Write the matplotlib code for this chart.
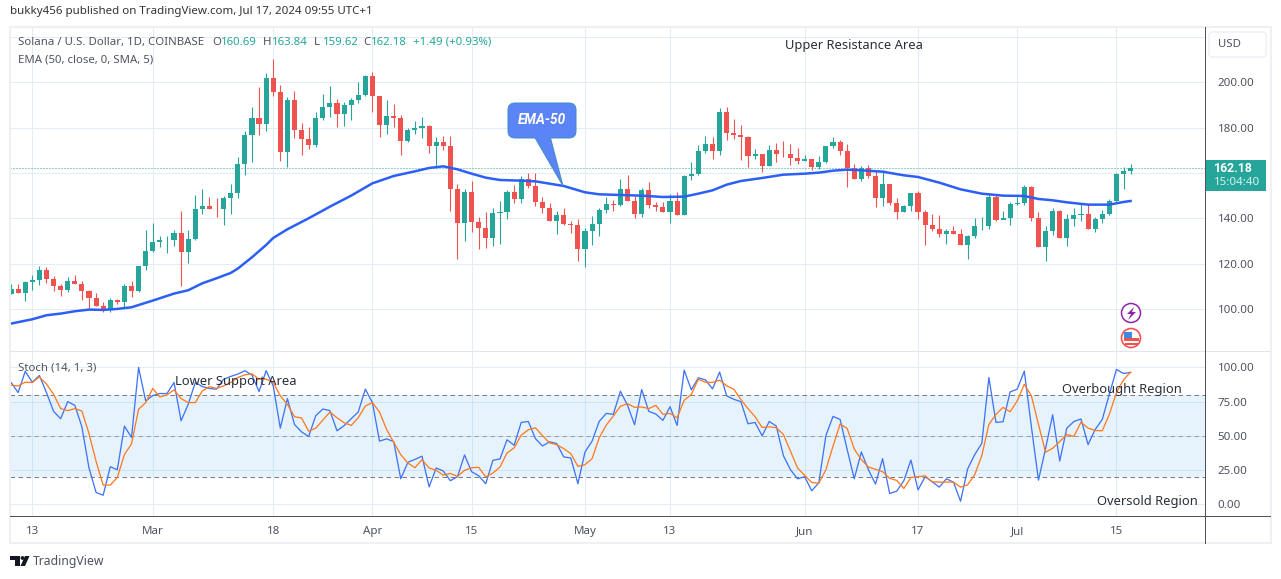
import numpy as np
import matplotlib
matplotlib.use('Agg')
import matplotlib.pyplot as plt
from matplotlib.patches import Circle, FancyBboxPatch, Polygon, Rectangle

plt.rcParams['font.family'] = ['Noto Sans', 'DejaVu Sans']

W, H = 1281, 579

# days counted from 13 Feb 2024
days = np.arange(-3, 156)
first_open = 106.75

closes = [108.81, 107.19, 112.04, 112.92, 117.33, 113.36, 110.28, 108.51, 112.48, 111.16,
          108.07, 104.99, 101.47, 99.70, 104.11, 103.38, 110.28, 108.07, 119.09, 125.70,
          129.66, 130.54, 130.60, 133.62, 125.25, 130.98, 144.20, 145.52, 144.20, 144.05,
          149.04, 151.25, 164.02, 176.80, 184.28, 181.64, 201.91, 195.74, 169.31, 192.21,
          179.00, 175.03, 172.39, 184.28, 189.13, 190.89, 186.05, 190.01, 192.21, 194.42,
          202.79, 193.98, 181.20, 185.17, 184.14, 174.15, 179.00, 179.88, 180.76, 171.95,
          173.71, 171.95, 153.01, 138.03, 151.69, 138.47, 135.83, 131.42, 142.44, 142.88,
          151.69, 148.60, 157.41, 154.33, 147.28, 144.64, 138.91, 141.55, 137.59, 137.30,
          126.58, 134.51, 137.59, 143.76, 146.40, 145.96, 153.01, 147.72, 141.99, 152.57,
          145.96, 145.08, 142.88, 147.72, 141.55, 158.73, 159.62, 169.75, 172.83, 169.75,
          186.93, 177.68, 176.80, 175.91, 167.55, 168.43, 163.14, 170.19, 168.43, 168.28,
          166.66, 165.34, 166.22, 162.70, 164.90, 171.95, 173.71, 169.75, 162.26, 157.41,
          162.26, 158.73, 149.04, 155.21, 146.84, 142.88, 145.52, 151.25, 142.88, 137.15,
          135.39, 133.18, 134.51, 133.18, 128.34, 132.30, 136.71, 136.86, 149.48, 139.35,
          140.09, 146.40, 146.84, 153.89, 140.23, 127.46, 134.51, 143.32, 131.42, 139.79,
          141.55, 141.99, 135.39, 139.79, 141.99, 147.72, 159.62, 160.94, 162.18]

highs = [111.16, 111.16, 112.48, 115.12, 119.09, 118.65, 114.68, 111.16, 114.24, 115.12,
         112.48, 108.51, 107.05, 103.23, 104.99, 104.70, 111.16, 112.48, 119.09, 134.95,
         138.03, 132.30, 132.30, 134.95, 143.32, 134.95, 150.36, 153.01, 149.48, 149.04,
         149.92, 155.21, 167.10, 178.56, 189.13, 197.94, 204.11, 210.27, 198.82, 193.54,
         196.18, 182.08, 180.32, 186.93, 194.86, 198.38, 192.65, 191.33, 193.09, 200.14,
         203.23, 204.55, 192.65, 192.21, 190.45, 185.61, 179.88, 182.96, 184.72, 181.20,
         175.91, 176.35, 176.35, 155.21, 153.01, 156.53, 140.67, 142.88, 144.64, 147.72,
         152.57, 154.77, 158.73, 160.05, 160.05, 149.48, 146.84, 143.32, 144.64, 138.91,
         139.79, 135.83, 141.11, 144.64, 149.48, 148.16, 157.41, 159.17, 149.92, 153.45,
         156.09, 147.28, 147.28, 150.80, 151.69, 159.17, 164.90, 172.39, 176.35, 175.91,
         188.69, 189.13, 183.84, 181.20, 176.35, 170.63, 168.43, 172.39, 173.27, 174.15,
         172.83, 171.07, 167.98, 166.22, 167.55, 171.95, 175.91, 174.59, 172.83, 164.02,
         163.14, 163.58, 161.38, 161.38, 155.21, 149.04, 145.96, 151.25, 152.13, 143.76,
         141.99, 141.55, 135.39, 136.71, 135.39, 132.74, 140.23, 140.67, 150.80, 150.80,
         143.32, 147.28, 149.48, 154.77, 154.33, 142.88, 136.71, 144.64, 143.76, 141.99,
         144.64, 146.40, 146.40, 140.67, 143.76, 148.60, 160.05, 162.70, 163.84]

lows = [106.75, 107.19, 103.82, 108.51, 110.72, 111.60, 108.07, 105.87, 107.63, 111.16,
        104.11, 100.00, 101.47, 98.82, 98.82, 102.35, 100.88, 105.43, 107.63, 117.33,
        125.25, 127.46, 124.81, 127.90, 110.28, 120.41, 130.54, 141.99, 144.20, 140.67,
        137.15, 141.99, 149.04, 159.17, 164.90, 176.80, 178.56, 193.98, 165.34, 162.70,
        175.47, 167.98, 170.63, 171.51, 183.40, 184.72, 180.32, 180.76, 183.40, 190.89,
        193.98, 186.93, 175.91, 177.24, 180.32, 167.98, 173.71, 177.24, 175.47, 168.87,
        162.26, 170.19, 143.32, 122.17, 130.10, 134.06, 126.58, 127.02, 127.90, 128.78,
        139.79, 146.84, 146.84, 153.45, 145.52, 142.44, 138.91, 133.18, 137.15, 133.62,
        121.29, 118.65, 128.34, 132.30, 142.44, 143.32, 145.52, 147.72, 140.23, 140.67,
        144.64, 143.32, 142.88, 138.03, 141.55, 141.55, 156.97, 159.17, 168.87, 166.22,
        167.98, 174.59, 175.03, 165.78, 162.70, 166.22, 160.50, 163.14, 164.90, 167.10,
        163.58, 164.02, 165.34, 161.38, 161.82, 164.46, 171.07, 167.98, 153.89, 157.41,
        156.53, 157.85, 145.08, 145.52, 145.96, 139.79, 142.88, 143.32, 139.79, 128.34,
        134.51, 131.86, 128.78, 133.18, 128.34, 122.17, 131.42, 134.95, 135.39, 138.91,
        139.79, 137.15, 145.96, 145.96, 138.91, 127.46, 121.29, 132.74, 131.42, 127.90,
        136.71, 138.91, 135.39, 134.06, 138.03, 141.55, 147.28, 153.01, 159.62]

ema_days = [-3, 0, 2, 4, 6, 8, 10, 12, 14, 17, 20, 22, 24, 26, 28, 29, 31, 33, 34, 36, 39,
            42, 45, 48, 51, 54, 56, 58, 60, 62, 64, 66, 69, 71, 75, 78, 80, 83, 86, 89, 92,
            94, 96, 98, 100, 103, 106, 109, 111, 113, 115, 117, 120, 123, 125, 128, 131,
            134, 137, 140, 142, 144, 146, 149, 152, 154, 155]
ema_vals = [93.68, 95.59, 97.35, 98.09, 99.12, 99.85, 99.70, 100.15, 100.88, 103.82, 106.90,
            108.37, 111.45, 113.65, 116.00, 117.91, 122.90, 128.34, 131.42, 135.24, 140.09,
            145.22, 150.07, 155.50, 158.73, 160.79, 162.26, 162.99, 161.67, 159.76, 158.00,
            156.97, 156.68, 156.38, 154.33, 151.54, 150.66, 150.36, 150.07, 149.48, 149.63,
            150.95, 152.42, 154.92, 156.53, 157.85, 159.32, 159.76, 160.20, 161.08, 161.52,
            161.23, 160.64, 159.03, 158.29, 155.80, 152.86, 150.95, 150.07, 149.92, 148.60,
            148.02, 147.13, 146.11, 146.11, 147.28, 147.72]

stoch_k = [89.0, 81.6, 97.1, 89.2, 94.1, 81.6, 67.9, 62.5, 75.0, 72.3, 56.6, 26.5, 8.6, 6.6,
           27.4, 25.2, 57.1, 48.8, 100.0, 75.5, 79.4, 80.9, 80.9, 89.0, 61.0, 73.0, 89.0,
           86.0, 84.6, 84.1, 91.4, 93.4, 95.1, 97.6, 94.4, 82.4, 97.6, 86.5, 55.6, 77.2,
           58.3, 52.9, 49.5, 64.7, 69.6, 68.4, 53.7, 57.4, 62.5, 67.4, 84.1, 74.3, 46.1,
           47.8, 45.8, 18.6, 30.6, 32.8, 35.1, 12.7, 26.5, 24.3, 17.2, 20.1, 36.0, 23.8,
           20.8, 15.0, 32.1, 33.1, 47.1, 43.1, 59.8, 60.5, 48.0, 42.6, 45.6, 44.4, 34.6,
           33.8, 15.0, 38.2, 46.1, 60.5, 66.4, 65.7, 82.6, 72.3, 58.1, 83.8, 67.9, 65.9,
           61.3, 71.3, 57.6, 98.0, 83.6, 92.4, 90.9, 84.3, 96.6, 79.2, 76.7, 75.0, 58.8,
           59.8, 50.0, 60.5, 57.1, 35.5, 25.2, 18.6, 20.1, 9.8, 15.7, 50.2, 64.2, 62.0,
           40.0, 18.6, 38.2, 25.2, 14.7, 33.3, 7.8, 9.6, 17.2, 32.3, 10.5, 20.1, 16.4,
           12.5, 18.6, 16.2, 2.2, 25.7, 36.3, 44.4, 92.6, 59.8, 60.3, 82.1, 84.1, 97.3,
           56.6, 17.6, 40.7, 65.4, 31.6, 55.6, 60.5, 62.3, 43.6, 54.6, 62.0, 80.4, 98.5,
           95.6, 96.3]

stoch_d = [87.0, 86.5, 89.2, 89.0, 93.1, 87.8, 80.4, 69.9, 68.4, 69.9, 68.1, 51.7, 31.4, 14.0,
           14.0, 19.6, 36.3, 44.1, 69.4, 74.3, 84.6, 78.4, 79.9, 83.6, 77.2, 74.3, 74.3,
           82.8, 86.0, 84.6, 86.5, 89.0, 92.6, 94.6, 95.3, 91.4, 91.4, 89.0, 79.2, 73.0,
           64.0, 63.0, 53.4, 55.6, 61.5, 67.4, 63.2, 59.6, 57.6, 63.2, 71.8, 74.3, 67.4,
           54.7, 45.3, 36.3, 30.1, 26.7, 32.6, 26.5, 24.8, 21.3, 22.5, 20.3, 24.8, 26.7,
           27.0, 19.9, 22.8, 27.2, 37.5, 41.2, 50.5, 54.4, 55.9, 50.2, 44.8, 43.6, 40.7,
           37.0, 27.7, 28.9, 33.3, 48.5, 57.8, 64.5, 71.6, 73.5, 70.8, 71.1, 69.9, 72.3,
           65.7, 66.4, 63.2, 76.0, 80.2, 91.4, 89.2, 89.0, 90.7, 86.5, 84.1, 76.5, 69.9,
           64.0, 56.1, 56.6, 55.9, 51.0, 38.7, 26.5, 21.1, 15.9, 15.4, 25.2, 42.4, 58.6,
           55.4, 40.4, 32.6, 27.2, 25.5, 23.8, 18.9, 17.4, 11.5, 19.6, 20.1, 20.8, 16.4,
           16.2, 16.2, 16.2, 12.5, 14.2, 21.6, 35.5, 58.3, 65.7, 70.8, 67.6, 75.5, 87.7,
           79.2, 58.3, 38.0, 40.9, 45.8, 51.0, 49.5, 60.0, 55.6, 53.9, 53.7, 65.7, 81.6,
           90.9, 96.6]

tick_days = [0, 17, 34, 48, 62, 78, 90, 109, 125, 139, 153]
tick_labels = ['13', 'Mar', '18', 'Apr', '15', 'May', '13', 'Jun', '17', 'Jul', '15']
price_ticks = [100, 120, 140, 160, 180, 200, 220]
price_labels = ['100.00', '120.00', '140.00', '', '180.00', '200.00', '']
stoch_ticks = [0, 25, 50, 75, 100]
stoch_labels = ['0.00', '25.00', '50.00', '75.00', '100.00']

UP = '#26a69a'
DOWN = '#ef5350'
GRID = '#e3ecf3'
AXIS = '#50535e'
TXT = '#4f5260'
PX = 0.72  # one pixel in points


def px_axes(fig, left, top, right, bottom):
    return fig.add_axes([left / W, 1 - bottom / H, (right - left) / W, (bottom - top) / H])


fig = plt.figure(figsize=(W / 100, H / 100), dpi=100, facecolor='white')
ax = px_axes(fig, 10, 27, 1205, 351)
ax2 = px_axes(fig, 10, 351, 1205, 516)
px = fig.add_axes([0, 0, 1, 1], zorder=10)
px.set_xlim(0, W)
px.set_ylim(H, 0)
px.axis('off')
px.patch.set_alpha(0)

# candles
opens = np.array([first_open] + closes[:-1])
closes_a = np.array(closes)
cols = [UP if c >= o else DOWN for o, c in zip(opens, closes_a)]
ax.vlines(days, lows, highs, colors=cols, linewidth=1.1 * PX, zorder=3)
ax.bar(days, closes_a - opens, bottom=opens, width=0.72, color=cols, linewidth=0, zorder=4)
ax.plot(ema_days, ema_vals, color='#2b5ff5', linewidth=2.5 * PX, zorder=5)
ax.axhline(closes[-1], color=UP, linewidth=PX, dashes=(1, 2), zorder=2)

ax.set_xlim(-3.147, 165.5)
ax.set_ylim(81.6, 224.4)
ax.set_yticks(price_ticks, price_labels)
ax.set_xticks(tick_days, [])

# stochastic
ax2.axhspan(20, 80, color='#2196f3', alpha=0.11, linewidth=0, zorder=1)
ax2.axhline(80, color='#787b86', linewidth=PX, dashes=(4.5, 3.5), zorder=2)
ax2.axhline(50, color='#9a9da8', linewidth=PX, dashes=(4.5, 3.5), zorder=2)
ax2.axhline(20, color='#787b86', linewidth=PX, dashes=(4.5, 3.5), zorder=2)
ax2.plot(days, stoch_k, color='#3f74f5', linewidth=1.3 * PX, zorder=4)
ax2.plot(days, stoch_d, color='#ff7a1f', linewidth=1.3 * PX, zorder=4)
ax2.set_xlim(-3.147, 165.5)
ax2.set_ylim(-8.6, 112)
ax2.set_yticks(stoch_ticks, stoch_labels)
ax2.set_xticks(tick_days, tick_labels)

for a in (ax, ax2):
    a.grid(True, color=GRID, linewidth=PX)
    a.set_axisbelow(True)
    a.yaxis.tick_right()
    a.tick_params(length=0, labelsize=8.3, labelcolor=TXT, pad=9)
    for s in a.spines.values():
        s.set_visible(False)
ax2.tick_params(axis='x', pad=7)

# frame
px.add_patch(Rectangle((9.5, 26.5), 1261.5, 516.5, fill=False, edgecolor='#eef0f4', linewidth=1.5))
px.plot([10, 1270], [351, 351], color='#e3e5ea', linewidth=PX)
px.plot([10, 1270], [516, 516], color=AXIS, linewidth=PX)
px.plot([1205, 1205], [27, 543], color=AXIS, linewidth=PX)

# header
px.text(10, 11.5, 'bukky456 published on TradingView.com, Jul 17, 2024 09:55 UTC+1',
        fontsize=8.3, color='#333333', va='center')
px.text(18, 42.5, 'Solana / U.S. Dollar, 1D, COINBASE', fontsize=8.2, color=TXT, va='center')
for x, s, c in [(212, 'O', TXT), (221, '160.69', UP), (263, 'H', TXT), (272, '163.84', UP),
                (314, 'L', TXT), (323, '159.62', UP), (363, 'C', TXT), (371, '162.18', UP),
                (413, '+1.49 (+0.93%)', UP)]:
    px.text(x, 42.5, s, fontsize=8.2, color=c, va='center')
px.text(18, 59.5, 'EMA (50, close, 0, SMA, 5)', fontsize=8.2, color=TXT, va='center')
px.text(18, 367.5, 'Stoch (14, 1, 3)', fontsize=8.2, color=TXT, va='center')

# notes on the chart
for x, y, s in [(785, 45, 'Upper Resistance Area'), (175, 381, 'Lower Support Area'),
                (1062, 390, 'Overbought Region'), (1097, 502, 'Oversold Region')]:
    px.text(x, y, s, fontsize=9.3, color='#2a2e39', va='center')

# EMA-50 callout
px.add_patch(Polygon([(534, 136), (550, 136), (563, 186)], closed=True, facecolor='#5b84f7',
                     edgecolor='#3f8fc4', linewidth=PX))
px.add_patch(FancyBboxPatch((508, 103), 68, 35, boxstyle='round,pad=0,rounding_size=7',
                            facecolor='#5b84f7', edgecolor='#3f8fc4', linewidth=PX))
px.add_patch(Polygon([(535, 137), (549, 137), (561, 180)], closed=True, facecolor='#5b84f7',
                     edgecolor='none'))
px.text(542, 120, 'EMA-50', fontsize=9.8, color='white', style='italic', weight='bold',
        family='Roboto', ha='center', va='center')

# price scale extras
px.add_patch(FancyBboxPatch((1209, 32), 57, 25, boxstyle='round,pad=0,rounding_size=3',
                            facecolor='white', edgecolor='#e6e8ee', linewidth=PX))
px.text(1218, 44.5, 'USD', fontsize=8.2, color=TXT, va='center')
px.add_patch(Rectangle((1205, 160), 61, 31, facecolor=UP, edgecolor='none'))
px.text(1214, 168.5, '162.18', fontsize=8.8, color='white', weight='bold', family='Roboto',
        va='center')
px.text(1214, 182.5, '15:04:40', fontsize=8.3, color='#d8f0ed', va='center')

# event icons
px.add_patch(Circle((1131, 313), 9.5, facecolor='white', edgecolor='#8e24aa', linewidth=1.1))
px.add_patch(Polygon([(1134, 307), (1127, 314), (1131, 314), (1128, 320), (1136, 312),
                      (1132, 312)], closed=True, facecolor='#8e24aa', edgecolor='none'))
px.add_patch(Circle((1131, 338), 9.5, facecolor='white', edgecolor='#ef5350', linewidth=1.2))
px.add_patch(Rectangle((1124, 338), 15, 2.5, facecolor='#ef5350', edgecolor='none'))
px.add_patch(Rectangle((1125, 343), 13, 2.2, facecolor='#ef5350', edgecolor='none'))
px.add_patch(Rectangle((1124, 332), 8, 6, facecolor='#3f8ae0', edgecolor='none'))

# logo and footer
px.add_patch(Polygon([(10, 556), (20, 556), (20, 566), (15, 566), (15, 560), (10, 560)],
                     closed=True, facecolor='#131722', edgecolor='none'))
px.add_patch(Circle((22.5, 558), 1.9, facecolor='#131722', edgecolor='none'))
px.add_patch(Polygon([(25, 556), (29.5, 556), (25, 566), (20.5, 566)], closed=True,
                     facecolor='#131722', edgecolor='none'))
px.text(33, 561, 'TradingView', fontsize=8.8, color=TXT, va='center')

fig.savefig('out.png', dpi=100)
